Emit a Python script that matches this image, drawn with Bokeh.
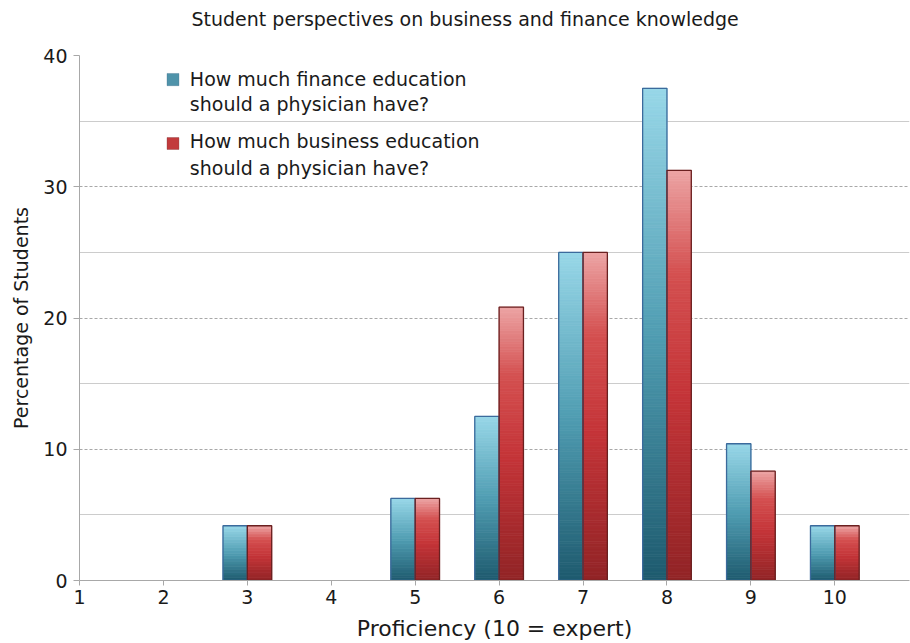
import numpy as np
from bokeh.plotting import figure
from bokeh.models import FixedTicker, Label, BoxAnnotation, Range1d, ColumnDataSource
from bokeh.embed import file_html
from bokeh.resources import INLINE

# ---- data ----
proficiency = [1, 2, 3, 4, 5, 6, 7, 8, 9, 10]
finance = [0, 0, 4.17, 0, 6.25, 12.5, 25.0, 37.5, 10.42, 4.17]
business = [0, 0, 4.17, 0, 6.25, 20.83, 25.0, 31.25, 8.33, 4.17]
y_ticks = [0, 10, 20, 30, 40]
y_minor = [5, 15, 25, 35]
title_text = "Student perspectives on business and finance knowledge"
x_label = "Proficiency (10 = expert)"
y_label = "Percentage of Students"
legend_finance = ["How much finance education", "should a physician have?"]
legend_business = ["How much business education", "should a physician have?"]

FONT = "DejaVu Sans"
TXT = "#1a1a1a"
BAR_W = 0.29
SLICES_PER_UNIT = 5

blue_stops = [(0.0, (30, 90, 110)), (0.5, (80, 157, 178)), (1.0, (152, 215, 232))]
red_stops = [(0.0, (145, 36, 38)), (0.45, (196, 52, 56)), (0.75, (212, 80, 80)), (1.0, (236, 164, 164))]


def interp(stops, t):
    for (p0, c0), (p1, c1) in zip(stops, stops[1:]):
        if p0 <= t <= p1:
            f = (t - p0) / (p1 - p0)
            return "#%02x%02x%02x" % tuple(int(round(a + (b - a) * f)) for a, b in zip(c0, c1))
    return "#%02x%02x%02x" % stops[-1][1]


def slices(xs, vals, stops):
    X, B, T, C = [], [], [], []
    for x, v in zip(xs, vals):
        if v <= 0:
            continue
        n = max(16, int(v * SLICES_PER_UNIT))
        for i in range(n):
            X.append(x)
            B.append(v * i / n)
            T.append(v * (i + 1) / n)
            C.append(interp(stops, (i + 0.5) / n))
    return ColumnDataSource(dict(x=X, bottom=B, top=T, color=C))


p = figure(width=910, height=643, output_backend="svg", toolbar_location=None,
           x_range=Range1d(1, 10.89), y_range=Range1d(0, 40),
           min_border_left=79, min_border_right=1, min_border_top=55, min_border_bottom=63)

# title: an empty second line reserves height so the text sits near the top edge
p.title.text = title_text + "\n"
p.title.align = "left"
p.title.offset = 112
p.title.vertical_align = "top"
p.title.standoff = 4
p.title.text_font = FONT
p.title.text_font_size = "19px"
p.title.text_font_style = "normal"
p.title.text_color = TXT

x_fin = [x - BAR_W / 2 for x in proficiency]
x_bus = [x + BAR_W / 2 for x in proficiency]

src_f = slices(x_fin, finance, blue_stops)
src_b = slices(x_bus, business, red_stops)
p.vbar(x="x", bottom="bottom", top="top", width=BAR_W, fill_color="color",
       line_color="color", line_width=0.8, source=src_f)
p.vbar(x="x", bottom="bottom", top="top", width=BAR_W, fill_color="color",
       line_color="color", line_width=0.8, source=src_b)

fx = [x for x, v in zip(x_fin, finance) if v > 0]
fv = [v for v in finance if v > 0]
bx = [x for x, v in zip(x_bus, business) if v > 0]
bv = [v for v in business if v > 0]
p.vbar(x=fx, top=fv, width=BAR_W, fill_color=None, line_color="#3b6a9c", line_width=1.3)
p.vbar(x=bx, top=bv, width=BAR_W, fill_color=None, line_color="#6a2020", line_width=1.3)

# axes
for ax in (p.xaxis, p.yaxis):
    ax.axis_line_color = "#a8a8a8"
    ax.major_tick_line_color = "#a8a8a8"
    ax.minor_tick_line_color = None
    ax.major_tick_in = 0
    ax.major_label_text_font = FONT
    ax.major_label_text_font_size = "19px"
    ax.major_label_text_color = TXT
    ax.axis_label_text_font = FONT
    ax.axis_label_text_font_style = "normal"
    ax.axis_label_text_color = TXT

p.xaxis.ticker = FixedTicker(ticks=proficiency)
p.xaxis.major_tick_out = 5
p.xaxis.major_label_standoff = 4
p.xaxis.axis_label = x_label
p.xaxis.axis_label_text_font_size = "22px"
p.xaxis.axis_label_standoff = 9

p.yaxis.ticker = FixedTicker(ticks=y_ticks, minor_ticks=y_minor)
p.yaxis.major_tick_out = 6
p.yaxis.major_label_standoff = 6
p.yaxis.axis_label = y_label
p.yaxis.axis_label_text_font_size = "19px"
p.yaxis.axis_label_standoff = 8

p.xgrid.visible = False
p.ygrid.grid_line_color = "#a8a8a8"
p.ygrid.grid_line_dash = "3 2"
p.ygrid.grid_line_width = 1
p.ygrid.minor_grid_line_color = "#cccccc"
p.ygrid.minor_grid_line_width = 1
p.outline_line_color = None
p.background_fill_color = "white"
p.border_fill_color = "white"

# legend (manual, two-line labels)
leg_x0, leg_x1 = 2.043, 2.185
text_x = 2.315
p.add_layout(BoxAnnotation(left=leg_x0, right=leg_x1, bottom=37.7, top=38.63,
                           fill_color="#4f93aa", fill_alpha=1, line_color="#2f5f80", line_width=1))
p.add_layout(BoxAnnotation(left=leg_x0, right=leg_x1, bottom=32.84, top=33.75,
                           fill_color="#c23a3c", fill_alpha=1, line_color="#6a2020", line_width=1))
for txt, yy in zip(legend_finance + legend_business, [38.2, 36.3, 33.45, 31.45]):
    p.add_layout(Label(x=text_x, y=yy, text=txt, text_font=FONT, text_font_size="19px",
                       text_color=TXT, text_baseline="alphabetic", text_align="left"))

open("out.html", "w").write(file_html(p, INLINE))
